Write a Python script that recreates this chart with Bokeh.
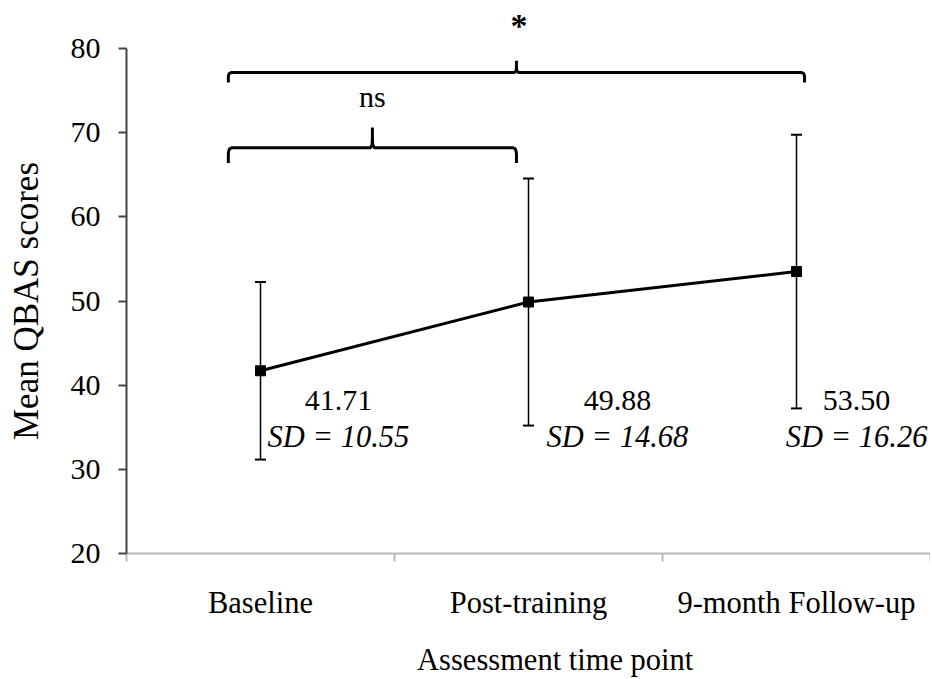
import numpy as np
from bokeh.plotting import figure
from bokeh.models import (Range1d, FixedTicker, ColumnDataSource, LabelSet, LinearAxis, Title)
from bokeh.embed import file_html
from bokeh.resources import INLINE

# ---- data ----
categories = ["Baseline", "Post-training", "9-month Follow-up"]
means = [41.71, 49.88, 53.50]
sds = [10.55, 14.68, 16.26]
mean_labels = ["41.71", "49.88", "53.50"]
sd_labels = ["SD = 10.55", "SD = 14.68", "SD = 16.26"]
y_ticks = [20, 30, 40, 50, 60, 70, 80]
x_title = "Assessment time point"
y_title = "Mean QBAS scores"

# significance brackets (in category index space)
bracket_left = [0.38, 0.38]
bracket_right = [2.53, 1.455]
bracket_y = [77.15, 68.2]
bracket_drop = [1.2, 1.8]
bracket_rise = [1.4, 2.4]
bracket_text = ["*", "ns"]

FONT = "Liberation Serif"

xs = np.arange(len(categories)) + 0.5
lower = [m - s for m, s in zip(means, sds)]
upper = [m + s for m, s in zip(means, sds)]

p = figure(width=930, height=679, output_backend="svg", toolbar_location=None,
           x_range=Range1d(0, 3), y_range=Range1d(20, 80),
           min_border_left=126, min_border_right=0, min_border_top=48,
           min_border_bottom=126, x_axis_location=None, y_axis_location=None)
p.outline_line_color = None
p.xgrid.visible = False
p.ygrid.visible = False
p.background_fill_color = "white"
p.border_fill_color = "white"

# y axis
yax = LinearAxis(ticker=FixedTicker(ticks=y_ticks))
yax.axis_label = y_title
yax.axis_line_color = "#444444"
yax.axis_line_width = 2
yax.major_tick_line_color = "#444444"
yax.major_tick_line_width = 2
yax.major_tick_out = 8
yax.major_tick_in = 0
yax.minor_tick_out = 0
yax.minor_tick_in = 0
yax.major_label_standoff = 18
yax.major_label_text_font = FONT
yax.major_label_text_font_size = "30px"
yax.major_label_text_color = "black"
yax.axis_label_text_font = FONT
yax.axis_label_text_font_size = "35px"
yax.axis_label_text_font_style = "normal"
yax.axis_label_text_color = "black"
yax.axis_label_standoff = 22
p.add_layout(yax, "left")

# x axis (title nudged right of centre with leading no-break spaces, as in the original)
xax = LinearAxis(ticker=FixedTicker(ticks=list(xs), minor_ticks=[0, 1, 2, 3]))
xax.major_label_overrides = {float(x): c for x, c in zip(xs, categories)}
xax.axis_label = "\u00a0" * 7 + x_title
xax.axis_line_color = "#b8b8b8"
xax.axis_line_width = 2
xax.major_tick_out = 0
xax.major_tick_in = 0
xax.minor_tick_line_color = "#b8b8b8"
xax.minor_tick_line_width = 2
xax.minor_tick_out = 8
xax.minor_tick_in = 0
xax.major_label_standoff = 24
xax.major_label_text_font = FONT
xax.major_label_text_font_size = "30.5px"
xax.major_label_text_color = "black"
xax.axis_label_text_font = FONT
xax.axis_label_text_font_size = "30.5px"
xax.axis_label_text_font_style = "normal"
xax.axis_label_text_color = "black"
xax.axis_label_standoff = 20
p.add_layout(xax, "below")

# error bars
p.segment(x0=xs, y0=lower, x1=xs, y1=upper, line_color="black", line_width=1.5)
p.scatter(x=np.concatenate([xs, xs]), y=lower + upper, marker="dash", size=11,
          line_color="black", line_width=2)

# mean line + markers
p.line(x=xs, y=means, line_color="black", line_width=3)
p.scatter(x=xs, y=means, marker="square", size=10, fill_color="black", line_color="black")

# brackets (rounded ends + central nub)
bxs, bys = [], []
for l, r, y, d, u in zip(bracket_left, bracket_right, bracket_y, bracket_drop, bracket_rise):
    c = (l + r) / 2
    e = 0.012
    bxs.append([l, l, l + e * 0.3, l + e, c - e * 0.6, c - e * 0.1, c, c])
    bys.append([y - d, y - d * 0.35, y - d * 0.08, y, y, y + u * 0.15, y + u * 0.45, y + u])
    bxs.append([c, c + e * 0.1, c + e * 0.6, r - e, r - e * 0.3, r, r])
    bys.append([y + u * 0.45, y + u * 0.15, y, y, y - d * 0.08, y - d * 0.35, y - d])
p.multi_line(xs=bxs, ys=bys, line_color="black", line_width=3)

# significance star above the top bracket (placed in the slot above the frame)
p.add_layout(Title(text=bracket_text[0], align="left", offset=384, standoff=9,
                   text_font=FONT, text_font_size="34px", text_font_style="bold",
                   text_color="black"), "above")

# "ns" label
sig_src = ColumnDataSource(dict(
    x=[(bracket_left[1] + bracket_right[1]) / 2],
    y=[73.1],
    t=[bracket_text[1]],
))
p.add_layout(LabelSet(x="x", y="y", text="t", source=sig_src, text_align="center",
                      text_baseline="alphabetic", text_font=FONT, text_font_size="30px",
                      text_color="black"))

# value annotations
lab_src = ColumnDataSource(dict(
    x=[0.791, 1.832, 2.724],
    ym=[37.0] * 3,
    ys=[32.7] * 3,
    m=mean_labels,
    s=sd_labels,
))
p.add_layout(LabelSet(x="x", y="ym", text="m", source=lab_src, text_align="center",
                      text_baseline="alphabetic", text_font=FONT, text_font_size="30px",
                      text_color="black"))
p.add_layout(LabelSet(x="x", y="ys", text="s", source=lab_src, text_align="center",
                      text_baseline="alphabetic", text_font=FONT, text_font_size="30.5px",
                      text_font_style="italic", text_color="black"))

open("out.html", "w").write(file_html(p, INLINE))
